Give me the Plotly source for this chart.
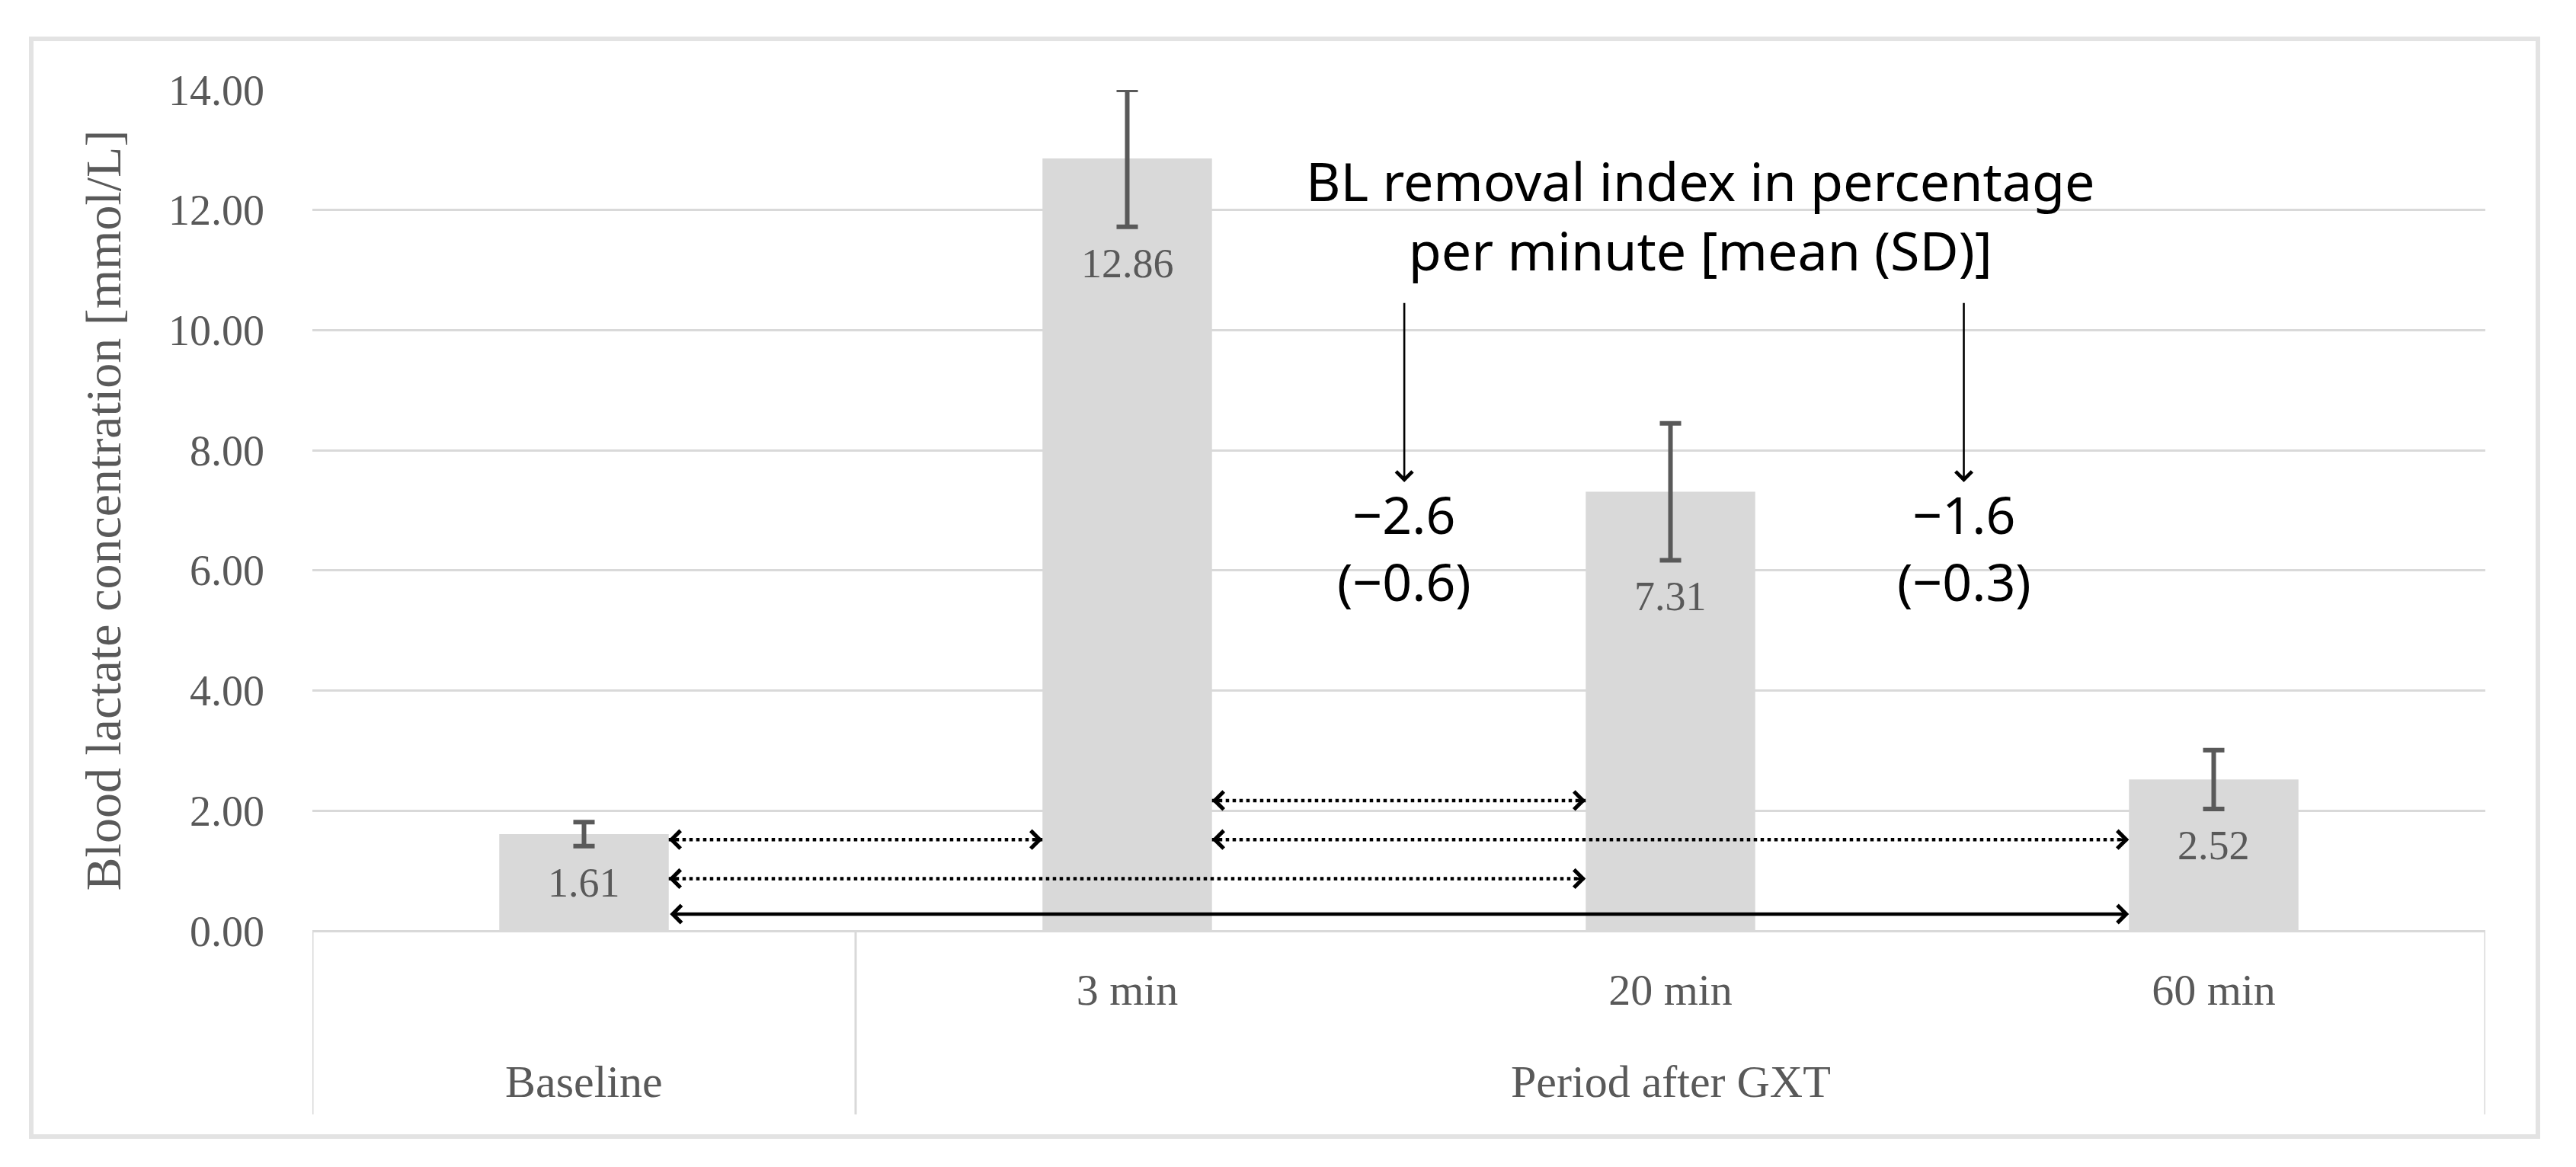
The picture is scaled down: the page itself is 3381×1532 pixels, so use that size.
import plotly.graph_objects as go

# ---------------- data ----------------
categories = ["Baseline", "3 min", "20 min", "60 min"]
tick_labels = ["", "3 min", "20 min", "60 min"]
group_labels = ["Baseline", "Period after GXT"]
means = [1.61, 12.86, 7.31, 2.52]
sds = [0.20, 1.14, 1.14, 0.49]
value_labels = ["1.61", "12.86", "7.31", "2.52"]
removal_title = ["BL removal index in percentage", "per minute [mean (SD)]"]
removal_mean = ["−2.6", "−1.6"]
removal_sd = ["(−0.6)", "(−0.3)"]
# pairs of compared time points (from, to) and whether the arrow is dotted
comparison_pairs = [(0, 1), (1, 2), (1, 3), (0, 2), (0, 3)]
comparison_dotted = [True, True, True, True, False]

# ---------------- style ----------------
W, H = 3381, 1532
ML, MR, MT, MB = 402, 127, 110, 318
BAR_W = 0.312
GREY_TXT = "#595959"
GRID = "#D9D9D9"
SERIF = "Liberation Serif"
SANS = "Noto Sans"
pw = W - ML - MR
ph = H - MT - MB


def py(pix):
    """paper y fraction for a pixel row (decoration only)"""
    return (H - MB - pix) / ph


def px(pix):
    return (pix - ML) / pw


xpos = list(range(len(categories)))

fig = go.Figure()
fig.add_trace(go.Bar(
    x=xpos, y=means, width=BAR_W,
    marker=dict(color="#D9D9D9", line=dict(width=0)),
    error_y=dict(type="data", array=sds, visible=True,
                 color=GREY_TXT, thickness=6, width=14),
    hoverinfo="skip",
))

annotations = []
shapes = []

# value labels under the error bars
for i, (m, s, t) in enumerate(zip(means, sds, value_labels)):
    annotations.append(dict(x=xpos[i], y=m - s, xref="x", yref="y", text=t,
                            showarrow=False, yanchor="middle", yshift=-48,
                            font=dict(family=SERIF, size=54, color=GREY_TXT)))

# comparison arrows
level_y = [1.52, 2.17, 1.52, 0.87, 0.28]
for (a, b), dotted, yl in zip(comparison_pairs, comparison_dotted, level_y):
    x0 = xpos[a] + BAR_W / 2
    x1 = xpos[b] - BAR_W / 2
    if dotted:
        shapes.append(dict(type="line", xref="x", yref="y", x0=x0, x1=x1, y0=yl, y1=yl,
                           line=dict(color="black", width=4.5, dash="dot")))
        for xe, off in ((x1, -14), (x0, 14)):
            annotations.append(dict(x=xe, y=yl, xref="x", yref="y", text="",
                                    showarrow=True, ax=off, ay=0,
                                    arrowhead=4, arrowsize=1.3, arrowwidth=3.5,
                                    arrowcolor="black"))
    else:
        annotations.append(dict(x=x1, y=yl, xref="x", yref="y", text="",
                                showarrow=True, axref="x", ayref="y", ax=x0, ay=yl,
                                arrowside="end+start", arrowhead=4, arrowsize=1.0,
                                arrowwidth=4.5, arrowcolor="black"))

# removal index title
annotations.append(dict(x=2.055, y=11.91, xref="x", yref="y",
                        text="<br>".join(removal_title),
                        showarrow=False, align="center",
                        font=dict(family=SANS, size=70, color="black")))

# removal index values with vertical arrows
for xv, mval, sval in zip([1.51, 2.54], removal_mean, removal_sd):
    annotations.append(dict(x=xv, y=6.39, xref="x", yref="y",
                            text=mval + "<br>" + sval, showarrow=False,
                            align="center",
                            font=dict(family=SANS, size=68, color="black")))
    annotations.append(dict(x=xv, y=7.47, xref="x", yref="y", text="",
                            showarrow=True, axref="x", ayref="y", ax=xv, ay=10.47,
                            arrowhead=4, arrowsize=1.6, arrowwidth=2.6,
                            arrowcolor="black"))

# hierarchical category axis: group labels and dividers
annotations.append(dict(x=0, y=py(1412), xref="x", yref="paper",
                        text=group_labels[0], showarrow=False, yanchor="middle",
                        font=dict(family=SERIF, size=60, color=GREY_TXT)))
annotations.append(dict(x=2, y=py(1412), xref="x", yref="paper",
                        text=group_labels[1], showarrow=False, yanchor="middle",
                        font=dict(family=SERIF, size=60, color=GREY_TXT)))
for xd in (-0.5, 0.5, 3.5):
    shapes.append(dict(type="line", xref="x", yref="paper", x0=xd, x1=xd,
                       y0=0, y1=py(1455),
                       line=dict(color=GRID, width=3)))

# outer frame
shapes.append(dict(type="rect", xref="paper", yref="paper",
                   x0=px(33), x1=px(3323), y0=py(1484), y1=py(43),
                   line=dict(color="#E3E3E3", width=6), fillcolor="rgba(0,0,0,0)",
                   layer="below"))

fig.update_layout(
    width=W, height=H,
    margin=dict(l=ML, r=MR, t=MT, b=MB),
    paper_bgcolor="white", plot_bgcolor="white",
    showlegend=False,
    annotations=annotations,
    shapes=shapes,
    xaxis=dict(range=[-0.5, 3.5], tickvals=xpos, ticktext=tick_labels,
               showgrid=False, zeroline=False, showline=False, ticks="",
               ticklabelstandoff=38,
               tickfont=dict(family=SERIF, size=58, color=GREY_TXT)),
    yaxis=dict(range=[0, 14], dtick=2, tickformat=".2f",
               showgrid=True, gridcolor=GRID, gridwidth=3,
               zeroline=True, zerolinecolor=GRID, zerolinewidth=3,
               showline=False, ticks="", ticklabelstandoff=62,
               tickfont=dict(family=SERIF, size=56, color=GREY_TXT),
               title=dict(text="Blood lactate concentration [mmol/L]", standoff=40,
                          font=dict(family=SERIF, size=66, color=GREY_TXT))),
)

fig.write_html("out.html")
